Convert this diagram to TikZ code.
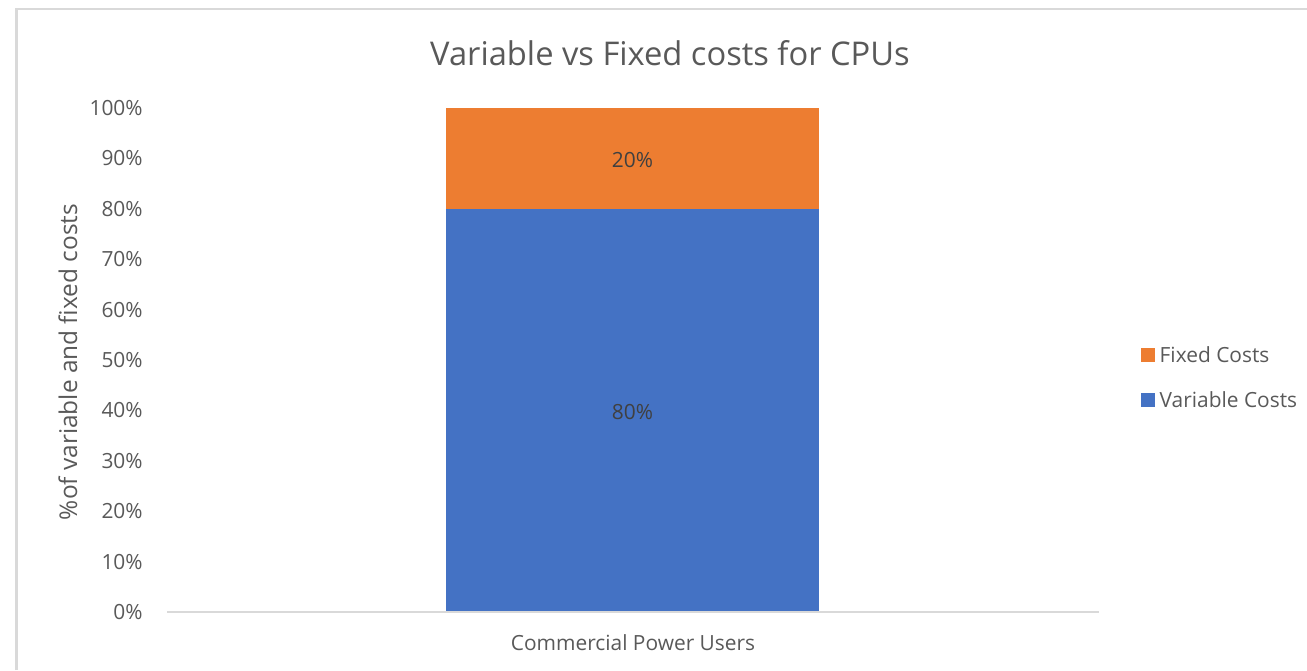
\documentclass[tikz,border=0pt]{standalone}
\usepackage{fontspec}
\setmainfont{Open Sans}
\usetikzlibrary{positioning}
\definecolor{varblue}{HTML}{4472C4}
\definecolor{fixorange}{HTML}{ED7D31}
\definecolor{axgray}{HTML}{D9D9D9}
\definecolor{txtgray}{HTML}{595959}
\definecolor{valgray}{HTML}{404040}

\begin{document}
\begin{tikzpicture}[
        x=0.02cm, y=-0.02cm,
        ticklbl/.style={anchor=east, inner sep=0pt, font=\fontsize{11.9}{14}\selectfont, text=txtgray},
        vallbl/.style={inner sep=0pt, font=\fontsize{11.9}{14}\selectfont, text=valgray},
        legbox/.style={rectangle, minimum size=7.5pt, inner sep=0pt},
        leglbl/.style={inner sep=0pt, font=\fontsize{11.9}{14}\selectfont, text=txtgray}
    ]
        \useasboundingbox (0,0) rectangle (1307,670);
        % chart frame
        \draw[axgray, line width=1.2pt] (16.5,670) -- (16.5,9) -- (1307,9);

        \node[font=\fontsize{18.6}{22}\selectfont, text=txtgray] (title) at (670,53) {Variable vs Fixed costs for CPUs};

        % value axis
        \foreach \p in {0,10,...,100}
            \node[ticklbl] (tick\p) at (143,{612-5.04*\p}) {\p\%};
        \node[rotate=90, font=\fontsize{13.9}{16}\selectfont, text=txtgray] (ytitle) at (68,362) {\%of variable and fixed costs};

        % stacked bar
        \fill[varblue] (446,612) rectangle (819,209.4);
        \fill[fixorange] (446,209.4) rectangle (819,108);
        \node[vallbl] (v80) at (632.5,412) {80\%};
        \node[vallbl] (v20) at (632.5,160) {20\%};

        % category axis
        \coordinate (axl) at (167,612);
        \coordinate (axr) at (1099,612);
        \draw[axgray, line width=1pt] (axl) -- (axr);
        \node[font=\fontsize{11.9}{14}\selectfont, text=txtgray] (cat) at (633,643) {Commercial Power Users};

        % legend
        \node[legbox, fill=fixorange] (kfix) at (1148,355) {};
        \node[leglbl, right=2.5pt of kfix] (lfix) {Fixed Costs};
        \node[legbox, fill=varblue] (kvar) at (1148,400) {};
        \node[leglbl, right=2.5pt of kvar] (lvar) {Variable Costs};
    \end{tikzpicture}
\end{document}
